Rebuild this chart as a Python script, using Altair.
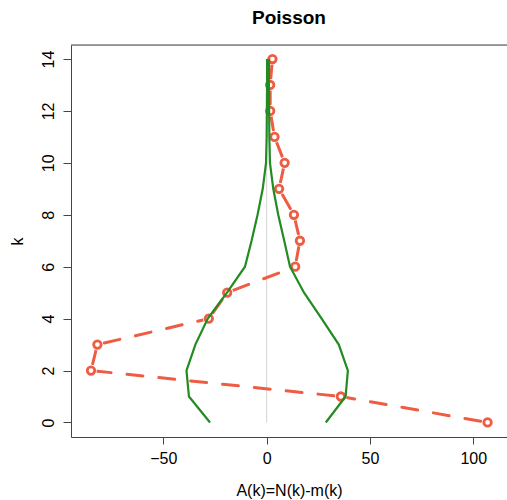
import altair as alt
import pandas as pd

# ---- data ----
k_vals = list(range(15))
A_vals = [106.9, 35.9, -85.0, -81.9, -28.0, -19.1, 13.8, 16.1, 13.2, 6.0, 8.7, 3.8, 1.7, 1.7, 2.8]
env_lower = [-27.4, -37.6, -38.8, -34.5, -28.5, -19.2, -10.5, -7.3, -4.4, -1.9, -0.3, 0.0, 0.1, 0.2, 0.2]
env_upper = [28.6, 38.2, 39.3, 34.9, 26.6, 18.1, 11.3, 8.5, 5.6, 3.2, 1.6, 1.3, 1.2, 1.1, 1.1]
x_ticks = [-50, 0, 50, 100]
y_ticks = [0, 2, 4, 6, 8, 10, 12, 14]

RED = "#EE5C42"
GREEN = "#228B22"
FONT = "Liberation Sans"

pts = pd.DataFrame({"k": k_vals, "A": A_vals})
seg_rows = []
for i in range(len(k_vals) - 1):
    seg_rows.append({"seg": i, "ord": 0, "k": k_vals[i], "A": A_vals[i]})
    seg_rows.append({"seg": i, "ord": 1, "k": k_vals[i + 1], "A": A_vals[i + 1]})
segs = pd.DataFrame(seg_rows)
env = pd.DataFrame({"k": k_vals, "lo": env_lower, "hi": env_upper})
zero = pd.DataFrame({"x": [0], "k0": [k_vals[0]], "k1": [k_vals[-1]]})

xs = alt.Scale(domain=[-94.68, 116.3], nice=False, zero=False)
ys = alt.Scale(domain=[-0.56, 14.54], nice=False, zero=False)

x_axis = alt.Axis(values=x_ticks, title="A(k)=N(k)-m(k)", grid=False, tickSize=7,
                  labelFontSize=16, labelPadding=6, labelColor="black", labelFont=FONT,
                  titleFont=FONT, titleFontSize=16, titleFontWeight="normal", titleColor="black",
                  titleY=58.7, titleBaseline="alphabetic",
                  domainColor="#444", tickColor="#444", labelFlush=False)
y_axis = alt.Axis(values=y_ticks, title="k", grid=False, tickSize=8,
                  labelFontSize=16, labelPadding=10, labelColor="black", labelFont=FONT,
                  labelAngle=-90, labelAlign="center", labelBaseline="alphabetic",
                  titleFont=FONT, titleFontSize=16, titleFontWeight="normal", titleColor="black",
                  titleX=-48.3, titleBaseline="alphabetic",
                  domainColor="#444", tickColor="#444", labelFlush=False)

zero_line = alt.Chart(zero).mark_rule(color="#D3D3D3", strokeWidth=1).encode(
    x=alt.X("x:Q", scale=xs, axis=x_axis),
    y=alt.Y("k0:Q", scale=ys, axis=y_axis),
    y2="k1:Q",
)

red_segs = alt.Chart(segs).mark_line(
    color=RED, strokeWidth=3, strokeDash=[16, 16], strokeDashOffset=-7, strokeCap="round"
).encode(
    x=alt.X("A:Q", scale=xs),
    y=alt.Y("k:Q", scale=ys),
    detail="seg:N",
    order="ord:Q",
)

halo = alt.Chart(pts).mark_circle(color="white", size=135, opacity=1).encode(
    x=alt.X("A:Q", scale=xs), y=alt.Y("k:Q", scale=ys)
)

red_pts = alt.Chart(pts).mark_point(
    shape="circle", filled=False, color=RED, strokeWidth=2.8, size=56, opacity=1
).encode(x=alt.X("A:Q", scale=xs), y=alt.Y("k:Q", scale=ys))

green_lo = alt.Chart(env).mark_line(color=GREEN, strokeWidth=2.2).encode(
    x=alt.X("lo:Q", scale=xs), y=alt.Y("k:Q", scale=ys), order="k:Q"
)
green_hi = alt.Chart(env).mark_line(color=GREEN, strokeWidth=2.2).encode(
    x=alt.X("hi:Q", scale=xs), y=alt.Y("k:Q", scale=ys), order="k:Q"
)

top_frame = alt.Chart(pd.DataFrame({"a": [0]})).mark_rule(color="#444", strokeWidth=1).encode(
    x=alt.value(0), x2=alt.value(436), y=alt.value(0)
)

chart = alt.layer(
    zero_line, red_segs, halo, red_pts, green_lo, green_hi, top_frame
).properties(
    width=436,
    height=392,
    padding={"left": 71, "top": 45, "right": 0, "bottom": 63},
    autosize=alt.AutoSizeParams(type="none"),
    title=alt.Title("Poisson", font=FONT, fontSize=19, fontWeight="bold", color="black",
                    anchor="middle", baseline="alphabetic", offset=2),
).configure_view(stroke=None).configure(background="white")

chart.save("out.html", embed_options={"renderer": "svg", "actions": False})
